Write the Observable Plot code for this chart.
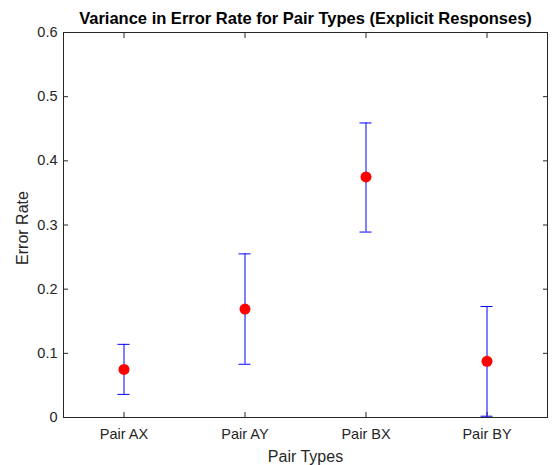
<!DOCTYPE html>
<html>
<head>
<meta charset="utf-8">
<script src="https://cdn.jsdelivr.net/npm/d3@7"></script>
<script src="https://cdn.jsdelivr.net/npm/@observablehq/plot@0.6"></script>
<style>
  html, body { margin: 0; padding: 0; background: #fff; }
  #chart { width: 557px; height: 465px; }
</style>
</head>
<body>
<div id="chart"></div>
<script>
const categories = ["Pair AX", "Pair AY", "Pair BX", "Pair BY"];
const means = [0.075, 0.169, 0.375, 0.0875];
const lower = [0.036, 0.083, 0.289, 0.002];
const upper = [0.114, 0.255, 0.459, 0.173];
const yTicks = [0, 0.1, 0.2, 0.3, 0.4, 0.5, 0.6];

const data = categories.map((c, i) => ({cat: c, mean: means[i], lo: lower[i], hi: upper[i]}));

const W = 557, H = 465;
const mL = 63, mR = 10, mT = 32, mB = 48;
const bandW = (W - mL - mR) / categories.length;
const capHalf = 6;
const inset = bandW / 2 - capHalf;
const axisColor = "#262626";
const font = "Liberation Sans, Arial, Helvetica, sans-serif";

const chart = Plot.plot({
  width: W,
  height: H,
  marginLeft: mL,
  marginRight: mR,
  marginTop: mT,
  marginBottom: mB,
  style: {fontFamily: font, background: "#fff", overflow: "visible"},
  x: {type: "band", domain: categories, padding: 0, label: null},
  y: {domain: [0, 0.6], label: null},
  marks: [
    Plot.frame({stroke: axisColor, strokeWidth: 1}),
    // inward ticks
    Plot.axisX({anchor: "bottom", tickSize: -5, text: null, stroke: axisColor}),
    Plot.axisX({anchor: "top", tickSize: -5, text: null, stroke: axisColor}),
    Plot.axisY(yTicks, {anchor: "left", tickSize: -5, text: null, stroke: axisColor}),
    Plot.axisY(yTicks, {anchor: "right", tickSize: -5, text: null, stroke: axisColor}),
    // tick labels
    Plot.axisX({anchor: "bottom", tickSize: 0, tickPadding: 11, fontSize: 14.5, fill: axisColor, label: null}),
    Plot.axisY(yTicks, {anchor: "left", tickSize: 0, tickPadding: 6, fontSize: 14.5, fill: axisColor, label: null,
      tickFormat: d => d === 0 ? "0" : d3.format(".1f")(d)}),
    // error bars
    Plot.ruleX(data, {x: "cat", y1: "lo", y2: "hi", stroke: "#0000ff", strokeWidth: 1}),
    Plot.tickY(data, {x: "cat", y: "lo", stroke: "#0000ff", strokeWidth: 1, insetLeft: inset, insetRight: inset}),
    Plot.tickY(data, {x: "cat", y: "hi", stroke: "#0000ff", strokeWidth: 1, insetLeft: inset, insetRight: inset}),
    Plot.dot(data, {x: "cat", y: "mean", r: 5.5, fill: "#ff0000", stroke: "none"}),
    // titles
    Plot.text(["Variance in Error Rate for Pair Types (Explicit Responses)"], {
      frameAnchor: "top", dy: -14, fontSize: 16.5, fontWeight: "bold", fill: "#000", text: d => d, lineAnchor: "middle"
    }),
    Plot.text(["Pair Types"], {
      frameAnchor: "bottom", dy: 39, fontSize: 16, fill: axisColor, text: d => d, lineAnchor: "middle"
    }),
    Plot.text(["Error Rate"], {
      frameAnchor: "left", dx: -41, dy: 3, rotate: -90, textAnchor: "middle", fontSize: 16, fill: axisColor, text: d => d
    })
  ]
});

document.getElementById("chart").appendChild(chart);
</script>
</body>
</html>
